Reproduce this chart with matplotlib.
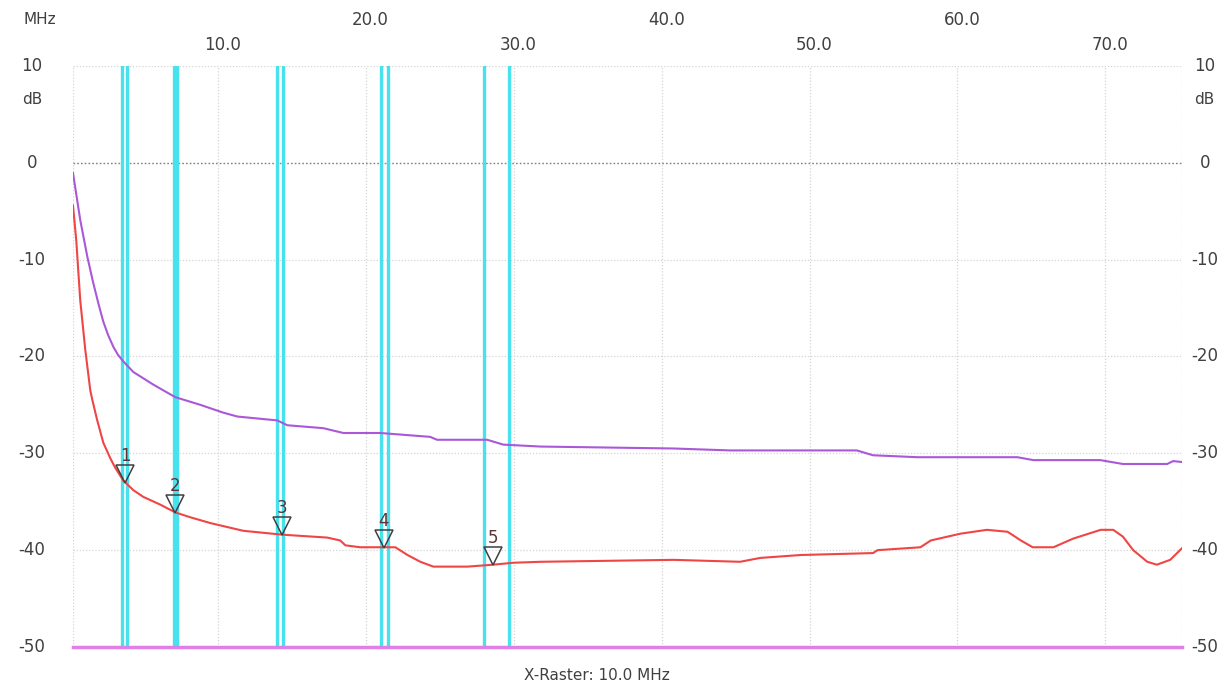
import numpy as np
import matplotlib
matplotlib.use("Agg")
import matplotlib.pyplot as plt
import matplotlib.transforms as mtransforms

# --- data ---
red_f = [0.17, 0.39, 0.66, 1.0, 1.34, 1.48, 1.81, 2.22, 2.69, 3.03, 3.57, 4.25, 4.93,
         6.08, 7.09, 8.1, 9.46, 11.69, 14.33, 17.37, 18.25, 18.6, 19.6, 21.98, 22.8,
         23.67, 24.55, 26.85, 28.6, 29.96, 31.8, 40.8, 45.3, 46.67, 49.4, 54.3, 54.6,
         57.5, 58.2, 60.2, 62.0, 63.4, 64.3, 65.1, 66.5, 67.85, 69.7, 70.55, 71.2,
         71.9, 72.85, 73.5, 74.4, 75.2]
red_db = [-4.4, -8.0, -14.2, -19.3, -23.5, -24.5, -26.6, -28.9, -30.5, -31.5, -32.8,
          -33.8, -34.5, -35.3, -36.1, -36.6, -37.2, -38.0, -38.4, -38.7, -39.0, -39.5,
          -39.7, -39.7, -40.5, -41.2, -41.7, -41.7, -41.5, -41.3, -41.2, -41.0, -41.2,
          -40.8, -40.5, -40.3, -40.0, -39.7, -39.0, -38.3, -37.9, -38.1, -39.0, -39.7,
          -39.7, -38.8, -37.9, -37.9, -38.6, -40.0, -41.2, -41.5, -41.0, -39.8]

pur_f = [0.17, 0.66, 1.14, 1.54, 1.9, 2.22, 2.55, 2.9, 3.2, 3.57, 4.25, 5.6, 7.09, 8.8,
         10.34, 11.29, 13.99, 14.67, 17.1, 18.46, 20.96, 24.34, 24.8, 28.2, 29.28, 31.8,
         40.8, 44.64, 53.2, 54.3, 57.3, 64.06, 65.14, 69.67, 71.2, 74.2, 74.6, 75.2]
pur_db = [-1.05, -5.9, -9.7, -12.4, -14.6, -16.4, -17.8, -19.0, -19.8, -20.5, -21.6,
          -22.9, -24.2, -25.0, -25.8, -26.2, -26.6, -27.1, -27.4, -27.9, -27.9, -28.3,
          -28.6, -28.6, -29.1, -29.3, -29.5, -29.7, -29.7, -30.2, -30.4, -30.4, -30.7,
          -30.7, -31.1, -31.1, -30.8, -30.9]

# ham band edges (cyan lines)
band_edges = [3.5, 3.8, 7.0, 7.2, 14.0, 14.35, 21.0, 21.45, 28.0, 29.7]
# markers on red trace
mark_f = [3.7, 7.1, 14.3, 21.2, 28.6]
mark_lbl = ["1", "2", "3", "4", "5"]

x_ticks = [10, 20, 30, 40, 50, 60, 70]
y_ticks = [10, 0, -10, -20, -30, -40, -50]

txt_c = "#404040"

fig = plt.figure(figsize=(12.24, 6.87), dpi=100)
ax = fig.add_axes([73/1224, 40/687, (1182-73)/1224, (647-66)/687])
ax.set_xlim(0.17, 75.2)
ax.set_ylim(-50, 10)
for s in ax.spines.values():
    s.set_visible(False)
ax.set_xticks([])
ax.set_yticks([])

# grid
for xv in x_ticks + [0.17, 75.2]:
    ax.axvline(xv, color="#d4d4d4", lw=0.9, ls=(0, (1, 1.5)), zorder=1)
for yv in [10, -10, -20, -30, -40]:
    ax.axhline(yv, color="#d4d4d4", lw=0.9, ls=(0, (1, 1.5)), zorder=1)
ax.axhline(0, color="#808080", lw=1.0, ls=(0, (1.2, 1.5)), zorder=1)

for b in band_edges:
    ax.axvline(b, color="#48e2ee", lw=2.4, zorder=2)

ax.axhline(-50, color="#e080e6", lw=2.5, zorder=3, clip_on=False)

ax.plot(pur_f, pur_db, color="#aa58d8", lw=1.5, zorder=4)
ax.plot(red_f, red_db, color="#f04545", lw=1.5, zorder=5)

# markers
mark_db = np.interp(mark_f, red_f, red_db)
tri_tr = mtransforms.offset_copy(ax.transData, fig=fig, x=0, y=6, units="points")
lbl_tr = mtransforms.offset_copy(ax.transData, fig=fig, x=0, y=12.5, units="points")
ax.plot(mark_f, mark_db, ls="none", marker="v", markersize=12.5,
        markerfacecolor="none", markeredgecolor="#404040", markeredgewidth=1.1,
        transform=tri_tr, zorder=6)
for f, d, t in zip(mark_f, mark_db, mark_lbl):
    ax.text(f, d, t, transform=lbl_tr, ha="center", va="bottom",
            fontsize=12, color="#5a3535", zorder=6)

# axis labels (drawn as text like the analyser screen)
for yv in y_ticks:
    ax.text(-0.037, yv, str(yv), transform=ax.get_yaxis_transform(),
            ha="center", va="center", fontsize=12, color=txt_c)
    ax.text(1.0205, yv, str(yv), transform=ax.get_yaxis_transform(),
            ha="center", va="center", fontsize=12, color=txt_c)
ax.text(-0.037, 6.5, "dB", transform=ax.get_yaxis_transform(),
        ha="center", va="center", fontsize=11, color=txt_c)
ax.text(1.0205, 6.5, "dB", transform=ax.get_yaxis_transform(),
        ha="center", va="center", fontsize=11, color=txt_c)

xt = mtransforms.blended_transform_factory(ax.transData, fig.transFigure)
for i, xv in enumerate(x_ticks):
    yy = 1 - 45/687 if i % 2 == 0 else 1 - 20/687
    ax.text(xv + 0.3, yy, f"{xv:.1f}", transform=xt,
            ha="center", va="center", fontsize=12, color=txt_c)
fig.text(40/1224, 1 - 19/687, "MHz", ha="center", va="center", fontsize=11, color=txt_c)
fig.text(597/1224, 1 - 675/687, "X-Raster: 10.0 MHz", ha="center", va="center",
         fontsize=11, color=txt_c)

fig.savefig("out.png", dpi=100)
